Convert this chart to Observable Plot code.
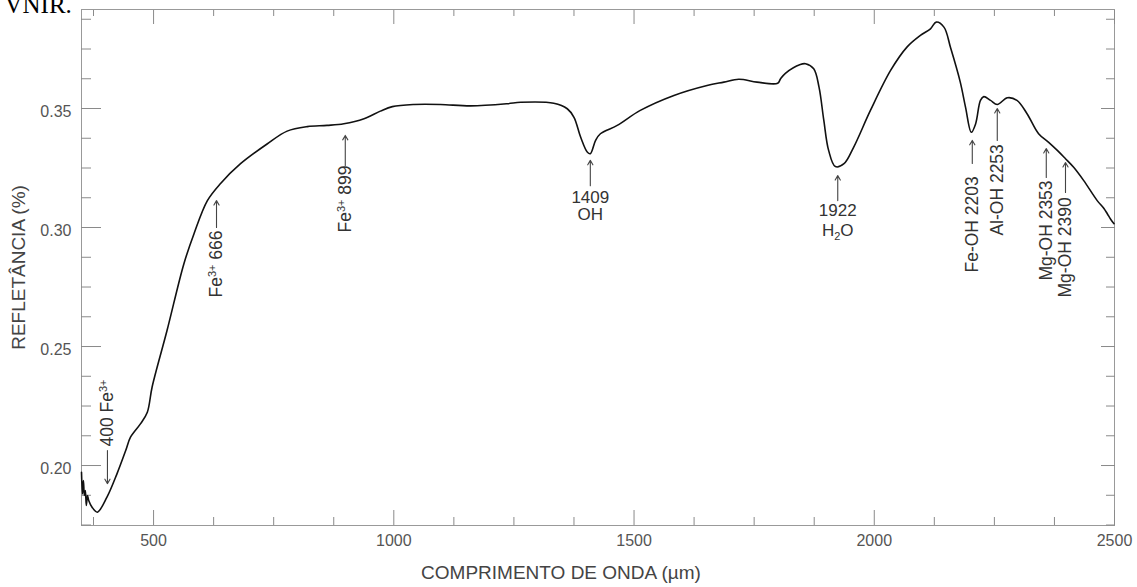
<!DOCTYPE html>
<html><head><meta charset="utf-8">
<script src="https://cdn.jsdelivr.net/npm/d3@7"></script>
<script src="https://cdn.jsdelivr.net/npm/@observablehq/plot@0.6"></script>
<style>body{margin:0;background:#fff;} #chart{width:1137px;height:587px;overflow:hidden}</style>
</head><body><div id="chart"></div>
<script>
// Spectrum (wavelength, reflectance)
const wavelength = [350,352,354,356,358,360,362.5,365,372,383,403,424,442,452,473,487,497,528,563,584,612,639,681,737,778,820,861,896,938,972,997,1042,1097,1160,1236,1264,1333,1361,1375,1389,1403,1409,1420,1430,1465,1513,1583,1652,1687,1718,1756,1799,1805,1815,1846,1857,1874,1885,1895,1905,1919,1937,1957,1992,2034,2068,2096,2117,2129,2145,2159,2179,2190,2202,2211,2221,2228,2242,2256,2277,2297,2318,2342,2363,2381,2398,2415,2436,2464,2478,2485,2492,2499];
const reflectance = [0.1972,0.1881,0.1937,0.1874,0.1895,0.1832,0.1874,0.1853,0.1825,0.1804,0.1867,0.1966,0.2063,0.2119,0.2176,0.2224,0.2330,0.2567,0.2847,0.2973,0.3113,0.3184,0.3268,0.3352,0.3405,0.3424,0.3429,0.3436,0.3457,0.3489,0.3508,0.3517,0.3517,0.3511,0.3520,0.3526,0.3522,0.3499,0.3463,0.3379,0.3316,0.3310,0.3366,0.3394,0.3429,0.3492,0.3555,0.3597,0.3611,0.3623,0.3611,0.3606,0.3625,0.3648,0.3685,0.3688,0.3667,0.3590,0.3450,0.3324,0.3256,0.3268,0.3337,0.3492,0.3660,0.3758,0.3807,0.3835,0.3863,0.3842,0.3754,0.3611,0.3505,0.3400,0.3436,0.3534,0.3550,0.3534,0.3517,0.3545,0.3534,0.3478,0.3394,0.3358,0.3324,0.3289,0.3253,0.3197,0.3113,0.3080,0.3058,0.3035,0.3016];

// Axis ticks
const xMajor = [500, 1000, 1500, 2000, 2500];
const xMinor = [375, 625, 750, 875, 1125, 1250, 1375, 1625, 1750, 1875, 2125, 2250, 2375];
const yMajor = [0.20, 0.25, 0.30, 0.35];
const yMinor = [0.175, 0.1875, 0.2125, 0.225, 0.2375, 0.2625, 0.275, 0.2875, 0.3125, 0.325, 0.3375, 0.3625, 0.375, 0.3875];

// Rotated band annotations
const rotLabels = ["400 Fe³⁺", "Fe³⁺ 666", "Fe³⁺ 899", "Fe-OH 2203", "Al-OH 2253", "Mg-OH 2353", "Mg-OH 2390"];
const rotX = [404, 631, 899, 2204, 2256, 2358, 2398];
const rotTextY = [0.2080, 0.2706, 0.2979, 0.2811, 0.2966, 0.2777, 0.2706];
const rotTail = [0.2063, 0.3000, 0.3260, 0.3269, 0.3366, 0.3210, 0.3147];
const rotTip = [0.1924, 0.3113, 0.3387, 0.3366, 0.3500, 0.3332, 0.3273];

// Horizontal band annotations
const hNum = ["1409", "1922"];
const hChem = ["OH", "H₂O"];
const hX = [1409, 1924];
const hNumY = [0.3126, 0.3071];
const hChemY = [0.3055, 0.2987];
const hTail = [0.3176, 0.3113];
const hTip = [0.3282, 0.3218];

const xTitle = "COMPRIMENTO DE ONDA (µm)";
const yTitle = "REFLETÂNCIA (%)";
const topText = "VNIR.";

const data = wavelength.map((w, i) => ({w, r: reflectance[i]}));
const rotIdx = rotLabels.map((_, i) => i);
const hIdx = hNum.map((_, i) => i);
const font = "'Liberation Sans', Arial, sans-serif";
const tickCol = "#8a8a8a";
const blank = () => "";

const plot = Plot.plot({
  width: 1137, height: 587,
  marginLeft: 81, marginRight: 23, marginTop: 9, marginBottom: 62,
  x: {domain: [350, 2500], label: null},
  y: {domain: [0.1748, 0.3916], label: null},
  style: {fontFamily: font, background: "#fff"},
  marks: [
    Plot.frame({stroke: "#999"}),
    // inward ticks on all four sides
    Plot.axisY(yMajor, {anchor: "left", tickSize: -20, tickFormat: blank, label: null, stroke: tickCol}),
    Plot.axisY(yMinor, {anchor: "left", tickSize: -10, tickFormat: blank, label: null, stroke: tickCol}),
    Plot.axisY(yMajor, {anchor: "right", tickSize: -14, tickFormat: blank, label: null, stroke: tickCol}),
    Plot.axisY(yMinor, {anchor: "right", tickSize: -9, tickFormat: blank, label: null, stroke: tickCol}),
    Plot.axisX(xMajor, {anchor: "bottom", tickSize: -15, tickFormat: blank, label: null, stroke: tickCol}),
    Plot.axisX(xMinor, {anchor: "bottom", tickSize: -8, tickFormat: blank, label: null, stroke: tickCol}),
    Plot.axisX(xMajor, {anchor: "top", tickSize: -14, tickFormat: blank, label: null, stroke: tickCol}),
    Plot.axisX(xMinor, {anchor: "top", tickSize: -6, tickFormat: blank, label: null, stroke: tickCol}),
    // tick labels
    Plot.axisY(yMajor, {anchor: "left", tickSize: 0, tickPadding: 10, tickFormat: d3.format(".2f"), label: null, fontSize: 16, fill: "#555", dy: 3}),
    Plot.axisX(xMajor, {anchor: "bottom", tickSize: 0, tickPadding: 9, tickFormat: d => String(d), label: null, fontSize: 16, fill: "#555"}),
    // spectrum
    Plot.line(data, {x: "w", y: "r", stroke: "#111", strokeWidth: 1.6, curve: "catmull-rom"}),
    // annotations
    Plot.arrow(rotIdx, {x1: i => rotX[i], x2: i => rotX[i], y1: i => rotTail[i], y2: i => rotTip[i], stroke: "#444", strokeWidth: 1.1, headLength: 7, headAngle: 60}),
    Plot.text(rotIdx, {x: i => rotX[i], y: i => rotTextY[i], text: i => rotLabels[i], rotate: -90, textAnchor: "start", fontSize: 17.5, fill: "#333"}),
    Plot.arrow(hIdx, {x1: i => hX[i], x2: i => hX[i], y1: i => hTail[i], y2: i => hTip[i], stroke: "#444", strokeWidth: 1.1, headLength: 7, headAngle: 60}),
    Plot.text(hIdx, {x: i => hX[i], y: i => hNumY[i], text: i => hNum[i], fontSize: 17, fill: "#333"}),
    Plot.text(hIdx, {x: i => hX[i], y: i => hChemY[i], text: i => hChem[i], fontSize: 17, fill: "#333"}),
    // titles
    Plot.text([xTitle], {text: d => d, frameAnchor: "bottom", dy: 53, dx: -37, textAnchor: "middle", fontSize: 19, fill: "#444"}),
    Plot.text([yTitle], {text: d => d, frameAnchor: "left", dx: -63, rotate: -90, textAnchor: "middle", fontSize: 19, fill: "#444"}),
    Plot.text([topText], {text: d => d, frameAnchor: "top-left", dx: -77, dy: 3, lineAnchor: "bottom", textAnchor: "start", fontFamily: "'Liberation Serif', 'Times New Roman', serif", fontSize: 25, fill: "#000"})
  ]
});

// superscripts / subscripts as real tspans
const NS = "http://www.w3.org/2000/svg";
plot.querySelectorAll("text").forEach(el => {
  const s = el.textContent;
  if (!/[³⁺₂]/.test(s)) return;
  const parts = s.split(/(³⁺|₂)/).filter(p => p !== "");
  while (el.firstChild) el.removeChild(el.firstChild);
  let shift = 0;
  parts.forEach(p => {
    const t = document.createElementNS(NS, "tspan");
    if (p === "³⁺") {
      t.textContent = "3+"; t.setAttribute("font-size", "11");
      t.setAttribute("dy", String(-6 - shift)); shift = -6;
    } else if (p === "₂") {
      t.textContent = "2"; t.setAttribute("font-size", "11");
      t.setAttribute("dy", String(4 - shift)); shift = 4;
    } else {
      t.textContent = p;
      if (shift !== 0) { t.setAttribute("dy", String(-shift)); shift = 0; }
    }
    el.appendChild(t);
  });
});

document.getElementById("chart").appendChild(plot);
</script>
</body></html>
